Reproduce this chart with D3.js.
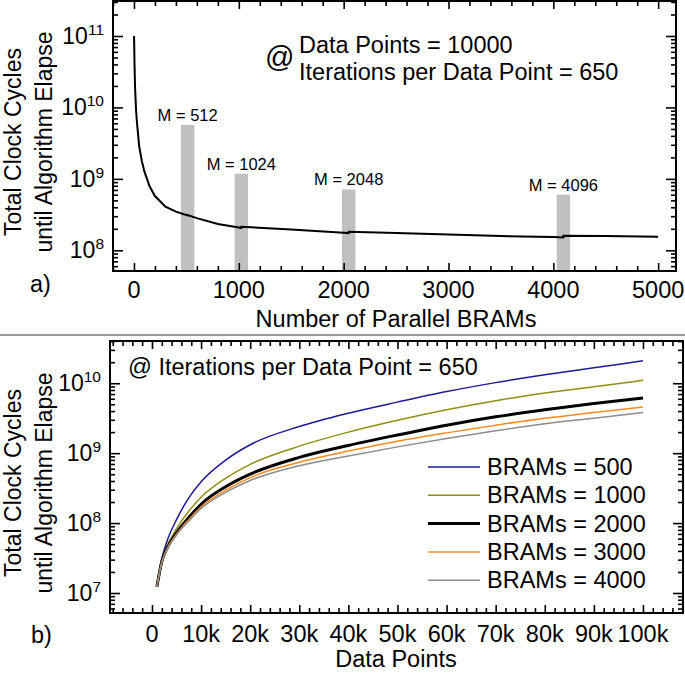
<!DOCTYPE html>
<html>
<head>
<meta charset="utf-8">
<script src="https://cdn.jsdelivr.net/npm/d3@7"></script>
<style>
  body { margin: 0; background: #fff; }
  svg text { font-family: "Liberation Sans", Arial, sans-serif; fill: #000; }
</style>
</head>
<body>
<svg id="chart" width="685" height="673"></svg>
<script>
/* Panel a) : cycles vs number of parallel BRAMs */
var bramCounts  = [1, 5, 10, 20, 30, 50, 75, 100, 150, 200, 300, 400, 511, 512, 600, 800,
                   1000, 1023, 1024, 1500, 2000, 2047, 2048, 2500, 3000, 3500, 4000, 4095, 4096, 4500, 5000];
var totalCycles = [1.0e11, 4.2e10, 2.0e10, 9.1e9, 5.8e9, 2.85e9, 1.78e9, 1.26e9, 7.8e8, 5.75e8, 4.07e8, 3.47e8, 3.07e8, 3.12e8, 2.82e8, 2.34e8,
                   2.09e8, 2.05e8, 2.14e8, 1.95e8, 1.76e8, 1.74e8, 1.82e8, 1.74e8, 1.66e8, 1.58e8, 1.53e8, 1.51e8, 1.60e8, 1.58e8, 1.55e8];
var markM      = [512, 1024, 2048, 4096];
var markCycles = [5.7e9, 1.18e9, 7.1e8, 6.0e8];
var markLabels = ["M = 512", "M = 1024", "M = 2048", "M = 4096"];
var xTicksA    = [0, 1000, 2000, 3000, 4000, 5000];

/* Panel b) : cycles vs data points */
var dataPoints   = [1000, 2000, 3000, 5000, 7500, 10000, 15000, 20000, 30000, 40000, 50000, 60000, 70000, 80000, 90000, 100000];
var cycles500    = [1.23e7, 3.09e7, 5.37e7, 1.12e8, 2.29e8, 3.89e8, 7.94e8, 1.32e9, 2.40e9, 3.72e9, 5.37e9, 7.59e9, 1.02e10, 1.32e10, 1.66e10, 2.09e10];
var cycles1000   = [1.23e7, 2.88e7, 4.57e7, 8.32e7, 1.48e8, 2.34e8, 4.37e8, 6.92e8, 1.26e9, 2.00e9, 2.95e9, 4.17e9, 5.62e9, 7.24e9, 8.91e9, 1.10e10];
var cycles2000   = [1.23e7, 2.82e7, 4.27e7, 7.24e7, 1.20e8, 1.86e8, 3.31e8, 5.01e8, 8.71e8, 1.29e9, 1.82e9, 2.51e9, 3.31e9, 4.17e9, 5.13e9, 6.17e9];
var cycles3000   = [1.23e7, 2.75e7, 4.17e7, 6.92e7, 1.12e8, 1.70e8, 2.95e8, 4.47e8, 7.41e8, 1.07e9, 1.48e9, 1.95e9, 2.51e9, 3.16e9, 3.80e9, 4.57e9];
var cycles4000   = [1.23e7, 2.75e7, 4.07e7, 6.76e7, 1.07e8, 1.62e8, 2.75e8, 4.07e8, 6.61e8, 9.12e8, 1.23e9, 1.62e9, 2.09e9, 2.63e9, 3.16e9, 3.80e9];
var legendLabels = ["BRAMs = 500", "BRAMs = 1000", "BRAMs = 2000", "BRAMs = 3000", "BRAMs = 4000"];
var xTicksB      = [0, 10000, 20000, 30000, 40000, 50000, 60000, 70000, 80000, 90000, 100000];
var xTickLabelsB = ["0", "10k", "20k", "30k", "40k", "50k", "60k", "70k", "80k", "90k", "100k"];

(function() {

var svg = d3.select("#chart");
var FONT = 23.5;

/* log minor ticks inside a domain */
function logMinors(dom) {
  var out = [];
  var lo = Math.floor(Math.log10(dom[0])), hi = Math.ceil(Math.log10(dom[1]));
  for (var e = lo; e <= hi; e++) {
    for (var k = 2; k <= 9; k++) {
      var v = k * Math.pow(10, e);
      if (v >= dom[0] && v <= dom[1]) out.push(v);
    }
  }
  return out;
}
function logMajors(dom) {
  var out = [];
  for (var e = Math.ceil(Math.log10(dom[0])); e <= Math.floor(Math.log10(dom[1])); e++) out.push(Math.pow(10, e));
  return out;
}

/* frame with inward ticks on all four sides */
function drawFrame(x, y, xMajor, xMinor) {
  var x0 = x.range()[0], x1 = x.range()[1], y0 = y.range()[0], y1 = y.range()[1];
  var g = svg.append("g");
  var yMajor = logMajors(y.domain()), yMinor = logMinors(y.domain());

  function ticks(axis, vals, size, tx, ty) {
    g.append("g")
      .attr("transform", "translate(" + tx + "," + ty + ")")
      .call(axis.tickValues(vals).tickSize(-size).tickFormat(""))
      .call(function(s) { s.select(".domain").remove(); })
      .selectAll("line").attr("stroke", "#000").attr("stroke-width", 1.6);
  }
  ticks(d3.axisBottom(x), xMajor, 8, 0, y0);
  ticks(d3.axisBottom(x), xMinor, 5, 0, y0);
  ticks(d3.axisTop(x), xMajor, 8, 0, y1);
  ticks(d3.axisTop(x), xMinor, 5, 0, y1);
  ticks(d3.axisLeft(y), yMajor, 10, x0, 0);
  ticks(d3.axisLeft(y), yMinor, 5, x0, 0);
  ticks(d3.axisRight(y), yMajor, 10, x1, 0);
  ticks(d3.axisRight(y), yMinor, 5, x1, 0);

  g.append("rect")
    .attr("x", x0).attr("y", y1)
    .attr("width", x1 - x0).attr("height", y0 - y1)
    .attr("fill", "none").attr("stroke", "#000").attr("stroke-width", 2);

  /* y labels as 10^n */
  yMajor.forEach(function(v) {
    var t = svg.append("text")
      .attr("x", x0 - 9).attr("y", y(v) + 8)
      .attr("text-anchor", "end")
      .style("font-size", "23px")
      .text("10");
    t.append("tspan").attr("dy", -9).style("font-size", "15.5px").text(Math.round(Math.log10(v)));
  });
}

function yTitle(cy) {
  [["Total Clock Cycles", 21], ["until Algorithm Elapse", 52]].forEach(function(d) {
    svg.append("text")
      .attr("transform", "translate(" + d[1] + "," + cy + ") rotate(-90)")
      .attr("text-anchor", "middle")
      .style("font-size", "23px")
      .text(d[0]);
  });
}

/* ---------- Panel a) ---------- */
var xA = d3.scaleLinear().domain([-200, 5170]).range([113, 676]);
var yA = d3.scaleLog().domain([Math.pow(10, 7.71), Math.pow(10, 11.49)]).range([271, 1]);

svg.selectAll(".bar").data(markM).enter().append("rect")
  .attr("class", "bar")
  .attr("x", function(d) { return xA(d - 64); })
  .attr("width", function(d) { return xA(d + 64) - xA(d - 64); })
  .attr("y", function(d, i) { return yA(markCycles[i]); })
  .attr("height", function(d, i) { return yA.range()[0] - yA(markCycles[i]); })
  .attr("fill", "#c0c0c0");

svg.selectAll(".barlabel").data(markM).enter().append("text")
  .attr("x", function(d) { return xA(d); })
  .attr("y", function(d, i) { return yA(markCycles[i]) - 4; })
  .attr("text-anchor", "middle")
  .style("font-size", "16.5px")
  .text(function(d, i) { return markLabels[i]; });

svg.append("path")
  .datum(d3.zip(bramCounts, totalCycles))
  .attr("fill", "none").attr("stroke", "#000").attr("stroke-width", 2)
  .attr("d", d3.line().x(function(d) { return xA(d[0]); }).y(function(d) { return yA(d[1]); }));

drawFrame(xA, yA, xTicksA, d3.range(-200, 5170, 200).filter(function(v) { return v % 1000 !== 0; }));

svg.selectAll(".xla").data(xTicksA).enter().append("text")
  .attr("x", function(d) { return xA(d); }).attr("y", 298)
  .attr("text-anchor", "middle").style("font-size", FONT + "px")
  .text(function(d) { return d; });

svg.append("text").attr("x", 265).attr("y", 67).style("font-size", "29px").text("@");
svg.append("text").attr("x", 299).attr("y", 53).style("font-size", FONT + "px").text("Data Points = 10000");
svg.append("text").attr("x", 299).attr("y", 80).style("font-size", FONT + "px").text("Iterations per Data Point = 650");

svg.append("text").attr("x", 396).attr("y", 327).attr("text-anchor", "middle")
  .style("font-size", FONT + "px").text("Number of Parallel BRAMs");
svg.append("text").attr("x", 30).attr("y", 292).style("font-size", FONT + "px").text("a)");
yTitle(142);

/* separator */
svg.append("line").attr("x1", 0).attr("x2", 685).attr("y1", 335).attr("y2", 335)
  .attr("stroke", "#999").attr("stroke-width", 2);

/* ---------- Panel b) ---------- */
var xB = d3.scaleLinear().domain([-8550, 108150]).range([110, 683]);
var yB = d3.scaleLog().domain([Math.pow(10, 6.714), Math.pow(10, 10.604)]).range([613, 341]);

var series = [
  { vals: cycles500,  color: "#1c1c9a", width: 1.5 },
  { vals: cycles1000, color: "#8f8f12", width: 1.5 },
  { vals: cycles2000, color: "#000000", width: 3 },
  { vals: cycles3000, color: "#ff8a1c", width: 1.5 },
  { vals: cycles4000, color: "#8c8c8c", width: 1.5 }
];

var lineB = d3.line()
  .x(function(d) { return xB(d[0]); })
  .y(function(d) { return yB(d[1]); })
  .curve(d3.curveMonotoneX);

series.forEach(function(s) {
  svg.append("path")
    .datum(d3.zip(dataPoints, s.vals))
    .attr("fill", "none").attr("stroke", s.color).attr("stroke-width", s.width)
    .attr("d", lineB);
});

drawFrame(xB, yB, xTicksB, d3.range(-8000, 108150, 2000).filter(function(v) { return v % 10000 !== 0; }));

svg.selectAll(".xlb").data(xTicksB).enter().append("text")
  .attr("x", function(d) { return xB(d); }).attr("y", 642)
  .attr("text-anchor", "middle").style("font-size", FONT + "px")
  .text(function(d, i) { return xTickLabelsB[i]; });

/* legend */
series.forEach(function(s, i) {
  var ly = 467 + i * 28.3;
  svg.append("line").attr("x1", 428).attr("x2", 480).attr("y1", ly).attr("y2", ly)
    .attr("stroke", s.color).attr("stroke-width", s.width);
  svg.append("text").attr("x", 487).attr("y", ly + 8)
    .style("font-size", FONT + "px").text(legendLabels[i]);
});

svg.append("text").attr("x", 128).attr("y", 375).style("font-size", FONT + "px")
  .text("@ Iterations per Data Point = 650");
svg.append("text").attr("x", 396).attr("y", 667).attr("text-anchor", "middle")
  .style("font-size", FONT + "px").text("Data Points");
svg.append("text").attr("x", 31).attr("y", 643).style("font-size", FONT + "px").text("b)");
yTitle(483);

})();
</script>
</body>
</html>
